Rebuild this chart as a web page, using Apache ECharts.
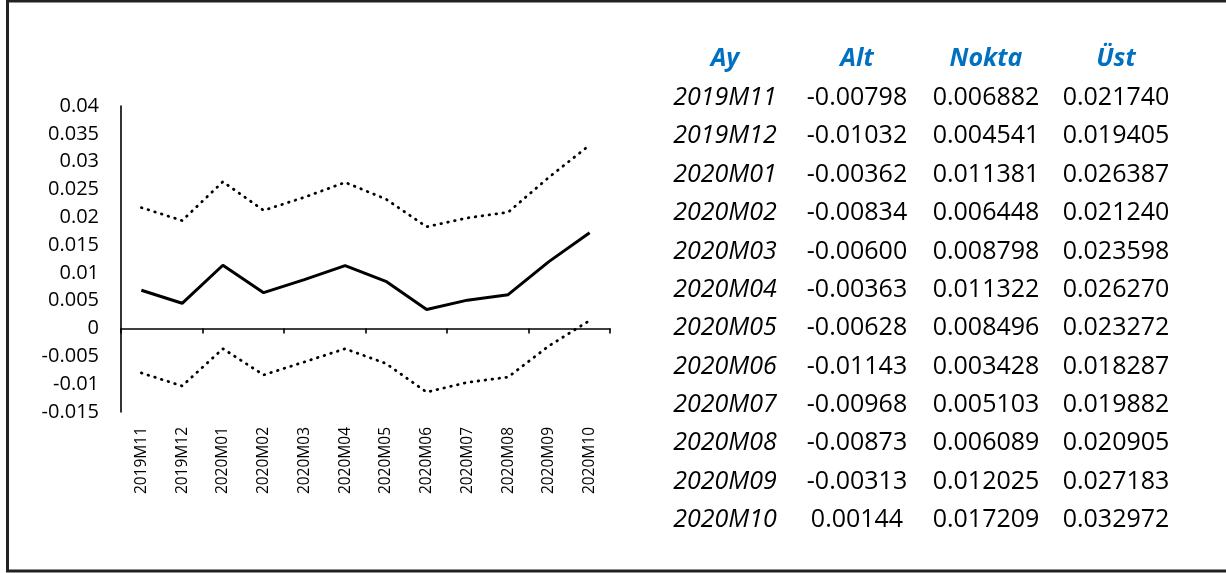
<!DOCTYPE html>
<html>
<head>
<meta charset="utf-8">
<style>
  html, body { margin: 0; padding: 0; background: #fff; }
  #chart { width: 1226px; height: 573px; }
</style>
<script src="https://cdn.jsdelivr.net/npm/echarts@6/dist/echarts.min.js"></script>
</head>
<body>
<div id="chart"></div>
<script>
// Monthly forecast: lower bound (Alt), point estimate (Nokta), upper bound (Üst)
const months = ['2019M11', '2019M12', '2020M01', '2020M02', '2020M03', '2020M04',
                '2020M05', '2020M06', '2020M07', '2020M08', '2020M09', '2020M10'];
const alt   = [-0.00798, -0.01032, -0.00362, -0.00834, -0.00600, -0.00363,
               -0.00628, -0.01143, -0.00968, -0.00873, -0.00313, 0.00144];
const nokta = [0.006882, 0.004541, 0.011381, 0.006448, 0.008798, 0.011322,
               0.008496, 0.003428, 0.005103, 0.006089, 0.012025, 0.017209];
const ust   = [0.021740, 0.019405, 0.026387, 0.021240, 0.023598, 0.026270,
               0.023272, 0.018287, 0.019882, 0.020905, 0.027183, 0.032972];
const tableHeader = ['Ay', 'Alt', 'Nokta', 'Üst'];

const FONT = '"Open Sans", "Noto Sans", sans-serif';

// Table on the right, laid out as text elements
const colX = [725, 857, 986, 1116];
const headerY = 59;
const rowY0 = 98;
const rowStep = 38.36;

const tableGraphics = [];
tableHeader.forEach((h, c) => {
  tableGraphics.push({
    type: 'text', x: colX[c], y: headerY, silent: true,
    style: {
      text: h, fill: '#0070C0', align: 'center', verticalAlign: 'middle',
      font: 'italic bold 25px ' + FONT
    }
  });
});
months.forEach((m, r) => {
  const y = rowY0 + r * rowStep;
  const cells = [m, alt[r].toFixed(5), nokta[r].toFixed(6), ust[r].toFixed(6)];
  cells.forEach((txt, c) => {
    tableGraphics.push({
      type: 'text', x: colX[c], y: y, silent: true,
      style: {
        text: txt, fill: '#000', align: 'center', verticalAlign: 'middle',
        font: (c === 0 ? 'italic ' : '') + '25px ' + FONT
      }
    });
  });
});

// Outer frame
tableGraphics.push({
  type: 'rect', silent: true, z: -1,
  shape: { x: 7.5, y: 1, width: 1240, height: 570 },
  style: { fill: 'none', stroke: '#222', lineWidth: 3 }
});

const chart = echarts.init(document.getElementById('chart'), null, { renderer: 'canvas' });

const dotted = { color: '#000', width: 2.8, type: [0.6, 6.4], cap: 'round' };

chart.setOption({
  animation: false,
  backgroundColor: '#fff',
  grid: { left: 121, right: 616, top: 106, bottom: 161, containLabel: false },
  xAxis: [
    {
      type: 'category', data: months, boundaryGap: true,
      axisLine: { onZero: true, lineStyle: { color: '#000', width: 1.6 } },
      axisTick: { show: true, length: 5, lineStyle: { color: '#000', width: 1.6 } },
      axisLabel: { show: false },
      splitLine: { show: false }
    },
    {
      type: 'category', data: months, boundaryGap: true, position: 'bottom',
      axisLine: { show: false, onZero: false },
      axisTick: { show: false },
      axisLabel: { show: true, rotate: 90, margin: 15, color: '#000', fontSize: 15.5, fontFamily: FONT },
      splitLine: { show: false }
    }
  ],
  yAxis: {
    type: 'value', min: -0.015, max: 0.04, interval: 0.005,
    axisLine: { show: true, lineStyle: { color: '#000', width: 1.6 } },
    axisTick: { show: false },
    splitLine: { show: false },
    axisLabel: {
      margin: 22, color: '#000', fontSize: 20, fontFamily: FONT,
      formatter: v => String(Number(v.toFixed(3)))
    }
  },
  series: [
    { name: 'Alt', type: 'line', data: alt, symbol: 'none', lineStyle: dotted, xAxisIndex: 0 },
    { name: 'Nokta', type: 'line', data: nokta, symbol: 'none',
      lineStyle: { color: '#000', width: 3 }, xAxisIndex: 0 },
    { name: 'Üst', type: 'line', data: ust, symbol: 'none', lineStyle: dotted, xAxisIndex: 0 }
  ],
  graphic: tableGraphics
});
</script>
</body>
</html>
